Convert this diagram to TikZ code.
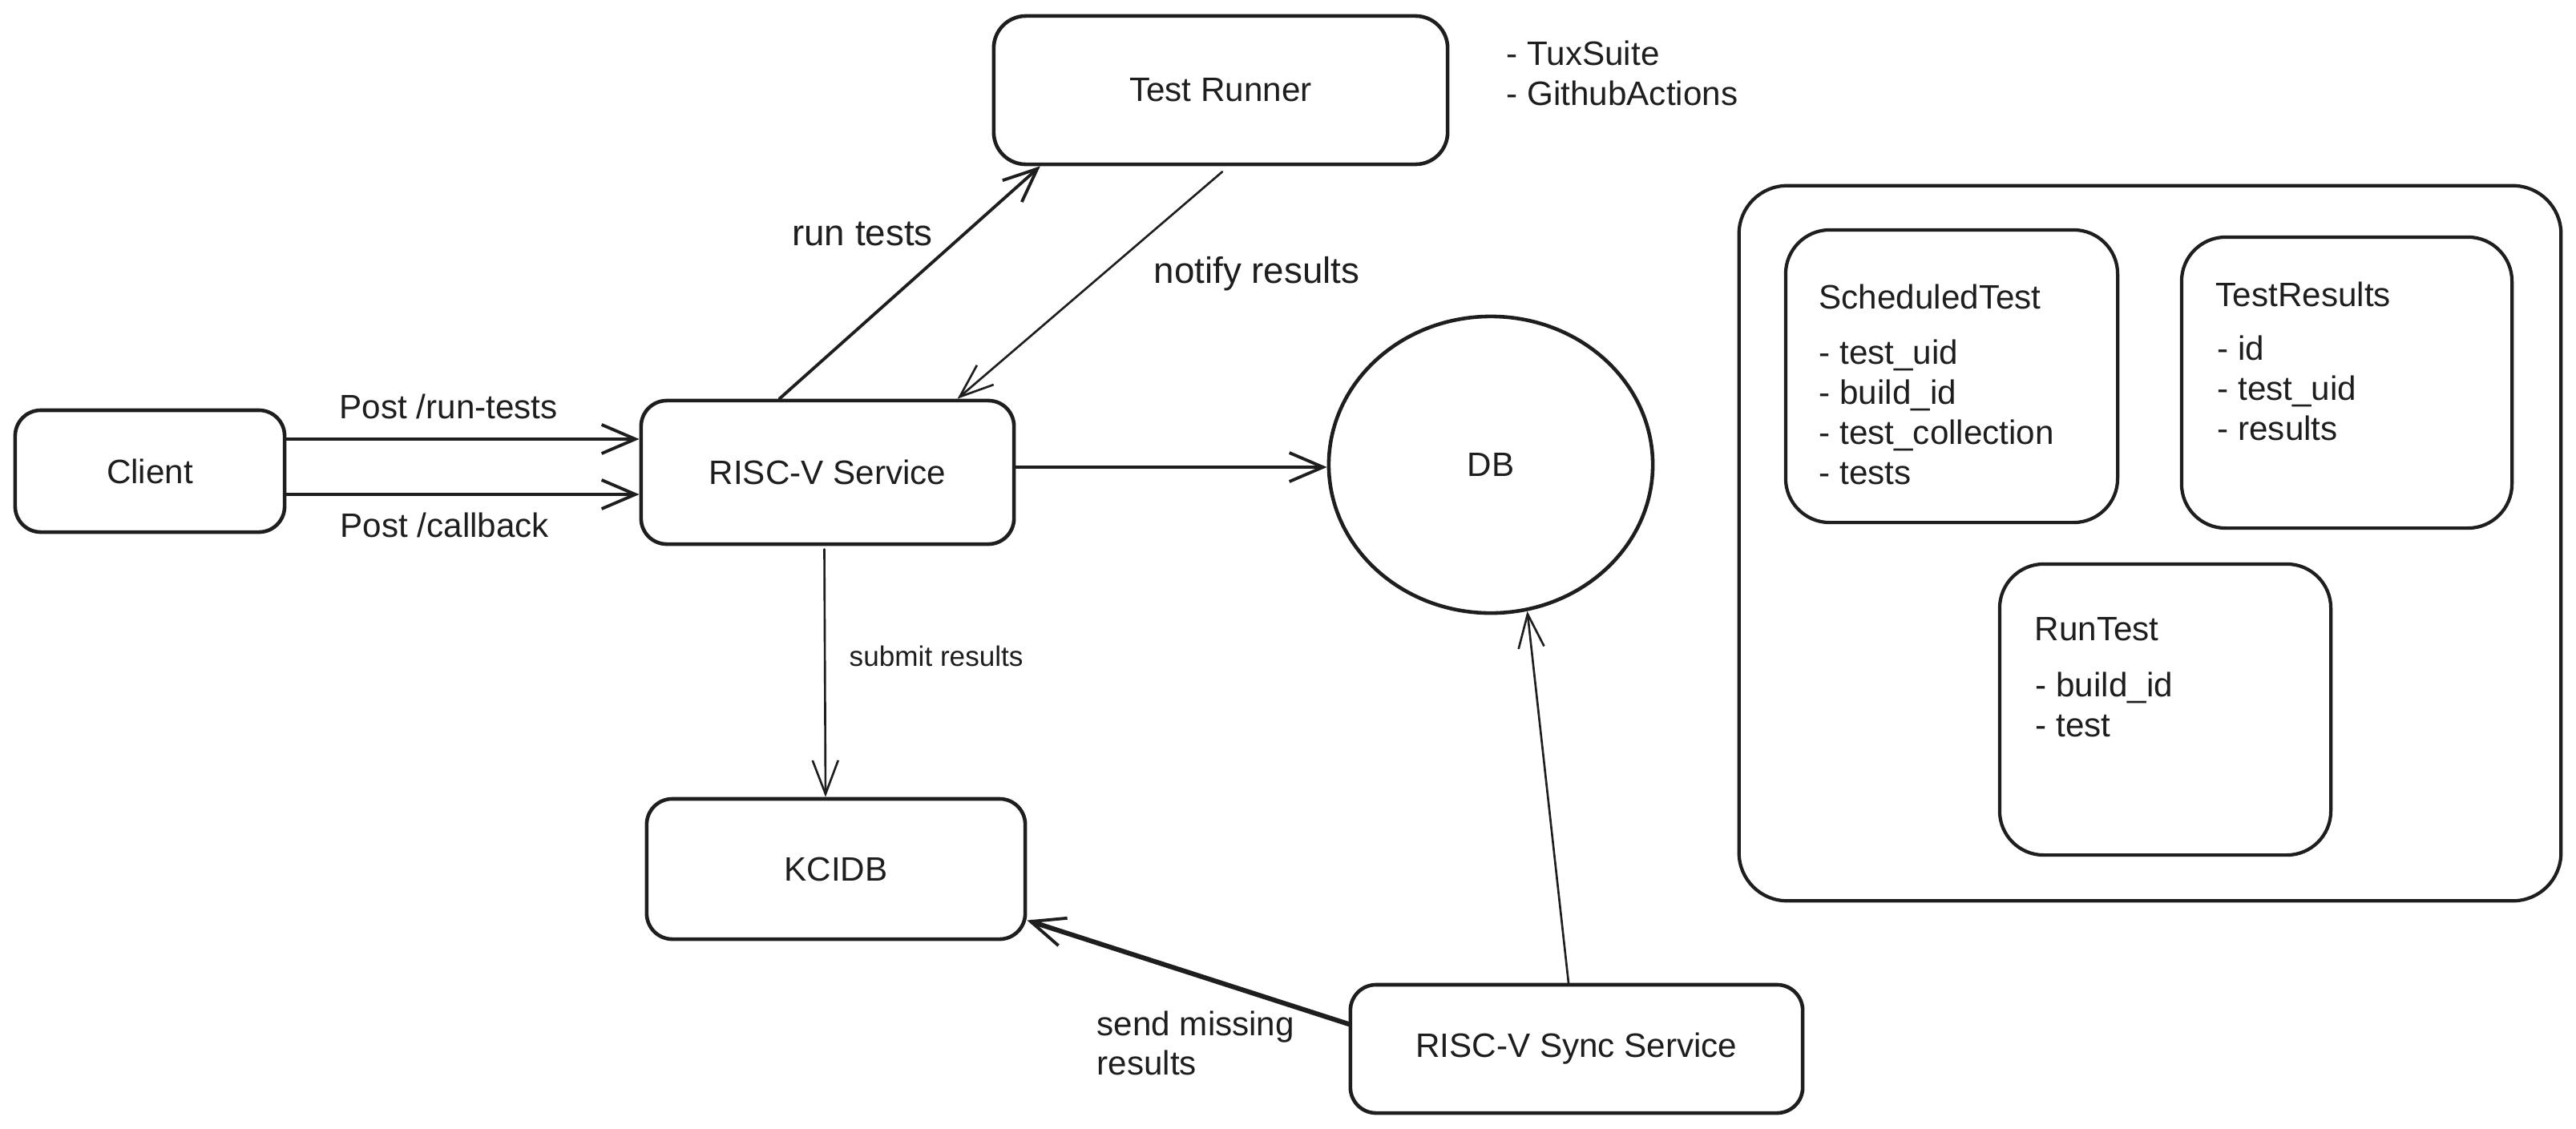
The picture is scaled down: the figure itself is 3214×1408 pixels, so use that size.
\documentclass[tikz,border=0pt]{standalone}
\usepackage{fontspec}
\setmainfont{Liberation Sans}
\usetikzlibrary{arrows.meta,shapes.geometric}
\definecolor{ink}{HTML}{1E1E1E}
\begin{document}
\begin{tikzpicture}[x=0.01cm,y=-0.01cm,
  box/.style={draw=ink, line width=1.3pt, rounded corners=0.32cm, inner sep=0pt, align=center,
    font=\fontsize{12}{14.2}\selectfont, text=ink},
  bigbox/.style={draw=ink, line width=1.2pt, rounded corners=0.6cm, inner sep=0pt},
  txt/.style={inner sep=0pt, align=left, text=ink, font=\fontsize{12}{14.2}\selectfont},
  lbl/.style={inner sep=0pt, align=left, text=ink, font=\fontsize{12}{14}\selectfont},
  biglbl/.style={inner sep=0pt, align=left, text=ink, font=\fontsize{13}{15}\selectfont},
  smalllbl/.style={inner sep=0pt, align=left, text=ink, font=\fontsize{10}{12}\selectfont},
  conn/.style={draw=ink, line width=1.1pt, line cap=round, line join=round,
    -{Straight Barb[length=0.42cm, width=0.36cm, line width=1.1pt]}},
  thinconn/.style={draw=ink, line width=0.75pt, line cap=round, line join=round,
    -{Straight Barb[length=0.42cm, width=0.32cm, line width=0.75pt]}},
  thickconn/.style={draw=ink, line width=1.7pt, line cap=round, line join=round,
    -{Straight Barb[length=0.42cm, width=0.36cm, line width=1.1pt]}}
]
\fill[white] (0,0) rectangle (3214,1408);
\useasboundingbox (0,0) rectangle (3214,1408);

% main nodes
\node[box, minimum width=3.36cm, minimum height=1.52cm] (client) at (187,588) {Client};
\node[box, minimum width=4.65cm, minimum height=1.79cm] (risc) at (1032.5,589.5) {RISC-V Service};
\node[box, minimum width=5.66cm, minimum height=1.85cm, rounded corners=0.4cm] (runner) at (1523,112.5) {Test Runner};
\node[draw=ink, line width=1.3pt, ellipse, inner sep=0pt, minimum width=4.04cm, minimum height=3.7cm,
  text=ink, font=\fontsize{12}{14.2}\selectfont] (db) at (1860,580) {DB};
\node[box, minimum width=4.72cm, minimum height=1.75cm] (kcidb) at (1043,1084.5) {KCIDB};
\node[box, minimum width=5.64cm, minimum height=1.60cm] (sync) at (1967,1309) {RISC-V Sync Service};

\node[txt, anchor=west] (tux) at (1879,91) {- TuxSuite\\- GithubActions};

% data model container
\node[bigbox, minimum width=10.25cm, minimum height=8.92cm] (outer) at (2682.5,678) {};
\node[bigbox, line width=1.2pt, rounded corners=0.55cm, minimum width=4.14cm, minimum height=3.65cm] (sched) at (2435,469.5) {};
\node[bigbox, line width=1.2pt, rounded corners=0.55cm, minimum width=4.12cm, minimum height=3.63cm] (results) at (2928,477.5) {};
\node[bigbox, line width=1.2pt, rounded corners=0.55cm, minimum width=4.13cm, minimum height=3.63cm] (runtest) at (2701.5,885.5) {};

\node[txt, anchor=west] (schedtitle) at (2269,370) {ScheduledTest};
\node[txt, anchor=west] (scheditems) at (2269,514) {- test\_uid\\- build\_id\\- test\_collection\\- tests};
\node[txt, anchor=west] (restitle) at (2764,367) {TestResults};
\node[txt, anchor=west] (resitems) at (2766,484) {- id\\- test\_uid\\- results};
\node[txt, anchor=west] (runtitle) at (2538,785) {RunTest};
\node[txt, anchor=west] (runitems) at (2539,879) {- build\_id\\- test};

% connectors
\draw[conn] ([yshift=0.4cm]client.east) -- ([yshift=0.415cm]risc.west);
\draw[conn] ([yshift=-0.29cm]client.east) -- ([yshift=-0.275cm]risc.west);
\draw[conn] ([xshift=-0.6cm]risc.north) -- ([xshift=-2.25cm]runner.south);
\draw[thinconn] ([xshift=0.02cm, yshift=-0.07cm]runner.south) -- ([xshift=1.62cm]risc.north);
\draw[conn] ([yshift=0.065cm]risc.east) -- ([yshift=-0.03cm]db.west);
\draw[thinconn] ([xshift=-0.04cm, yshift=-0.04cm]risc.south) -- ([xshift=-0.13cm]kcidb.north);
\draw[thickconn] ([yshift=0.31cm]sync.west) -- ([yshift=-0.64cm]kcidb.east);
\draw[thinconn] ([xshift=-0.1cm]sync.north) -- (db.-76.5);

% connector labels
\node[lbl, anchor=west] (lpost) at (423,507) {Post /run-tests};
\node[lbl, anchor=west] (lcall) at (424,655) {Post /callback};
\node[biglbl] (lrun) at (1076,292) {run tests};
\node[biglbl] (lnotify) at (1568,342) {notify results};
\node[smalllbl, anchor=west] (lsubmit) at (1059,819) {submit results};
\node[lbl, anchor=west] (lmissing) at (1368,1302) {send missing\\results};
\end{tikzpicture}
\end{document}
